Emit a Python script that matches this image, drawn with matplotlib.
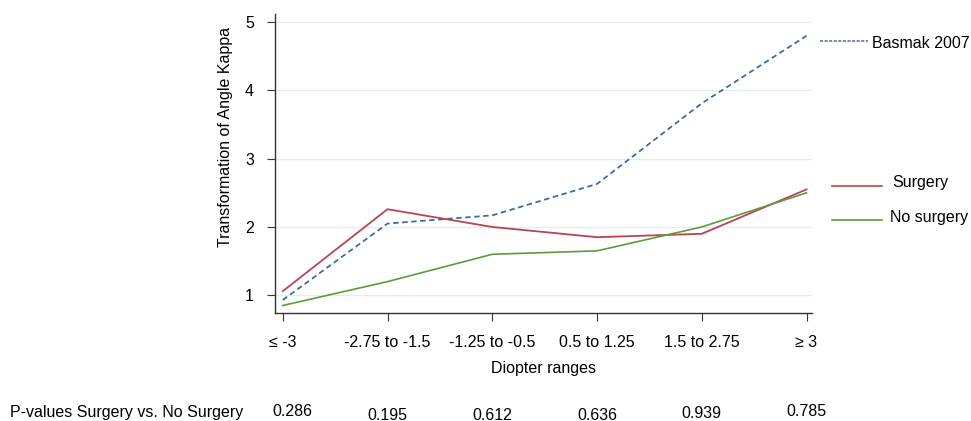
import matplotlib
matplotlib.use('Agg')
import matplotlib.pyplot as plt
from matplotlib.lines import Line2D
from matplotlib.transforms import blended_transform_factory

plt.rcParams['font.family'] = ['Liberation Sans', 'DejaVu Sans']

# Datos
rangos = ['≤ -3', '-2.75 to -1.5', '-1.25 to -0.5', '0.5 to 1.25', '1.5 to 2.75', '≥ 3']
basmak = [0.93, 2.05, 2.17, 2.63, 3.81, 4.80]
surgery = [1.06, 2.26, 2.00, 1.85, 1.90, 2.55]
no_surgery = [0.85, 1.20, 1.60, 1.65, 2.00, 2.50]
p_values = ['0.286', '0.195', '0.612', '0.636', '0.939', '0.785']

c_blue = '#3f6b9c'
c_red = '#b84450'
c_green = '#5f9a3c'
fs = 11.5

fig = plt.figure(figsize=(9.71, 4.21), dpi=100)
ax = fig.add_axes([0.283, 0.2565, 0.553, 0.7105])

x = list(range(len(rangos)))
ax.plot(x, basmak, color=c_blue, linestyle=(0, (3, 2)), linewidth=1.3)
ax.plot(x, surgery, color=c_red, linewidth=1.3)
ax.plot(x, no_surgery, color=c_green, linewidth=1.2)

ax.set_xlim(-0.076, 5.05)
ax.set_ylim(0.74, 5.12)
ax.set_yticks([1, 2, 3, 4, 5])
ax.set_xticks(x)
ax.set_xticklabels(rangos)
ax.yaxis.grid(True, color='#e6edf1', linewidth=1)
ax.set_axisbelow(True)
for s in ['top', 'right']:
    ax.spines[s].set_visible(False)
for s in ['left', 'bottom']:
    ax.spines[s].set_color('#333333')
    ax.spines[s].set_linewidth(1.0)
ax.tick_params(axis='both', labelsize=fs, color='#333333', length=6)
ax.tick_params(axis='x', pad=10)
ax.tick_params(axis='y', pad=9)
ax.set_ylabel('Transformation of Angle Kappa', fontsize=fs)
ax.yaxis.set_label_coords(-0.078, 0.59)
ax.set_xlabel('Diopter ranges', fontsize=fs, labelpad=8)

# Leyenda manual a la derecha
W, H = 971, 421
def linea(x0, x1, y, **kw):
    fig.add_artist(Line2D([x0 / W, x1 / W], [1 - y / H, 1 - y / H], transform=fig.transFigure, **kw))

linea(820, 868, 41, color=c_blue, linestyle=(0, (2, 1)), linewidth=1.1)
fig.text(872 / W, 1 - 43 / H, 'Basmak 2007', fontsize=fs, va='center')
linea(832, 882, 186, color=c_red, linewidth=1.2)
fig.text(892 / W, 1 - 183 / H, 'Surgery', fontsize=fs, va='center')
linea(832, 882, 220, color=c_green, linewidth=1.2)
fig.text(890 / W, 1 - 218 / H, 'No surgery', fontsize=fs, va='center')

# Fila de p-valores
fig.text(10 / W, 1 - 413 / H, 'P-values Surgery vs. No Surgery', fontsize=fs, va='center')
tr = blended_transform_factory(ax.transData, fig.transFigure)
y_p = [411, 415, 415, 415, 413, 411]
for xi, pv, yp in zip(x, p_values, y_p):
    ax.text(xi + (0.09 if xi == 0 else 0), 1 - yp / H, pv, transform=tr, fontsize=fs,
            ha='center', va='center')

fig.savefig('out.png', dpi=100)
